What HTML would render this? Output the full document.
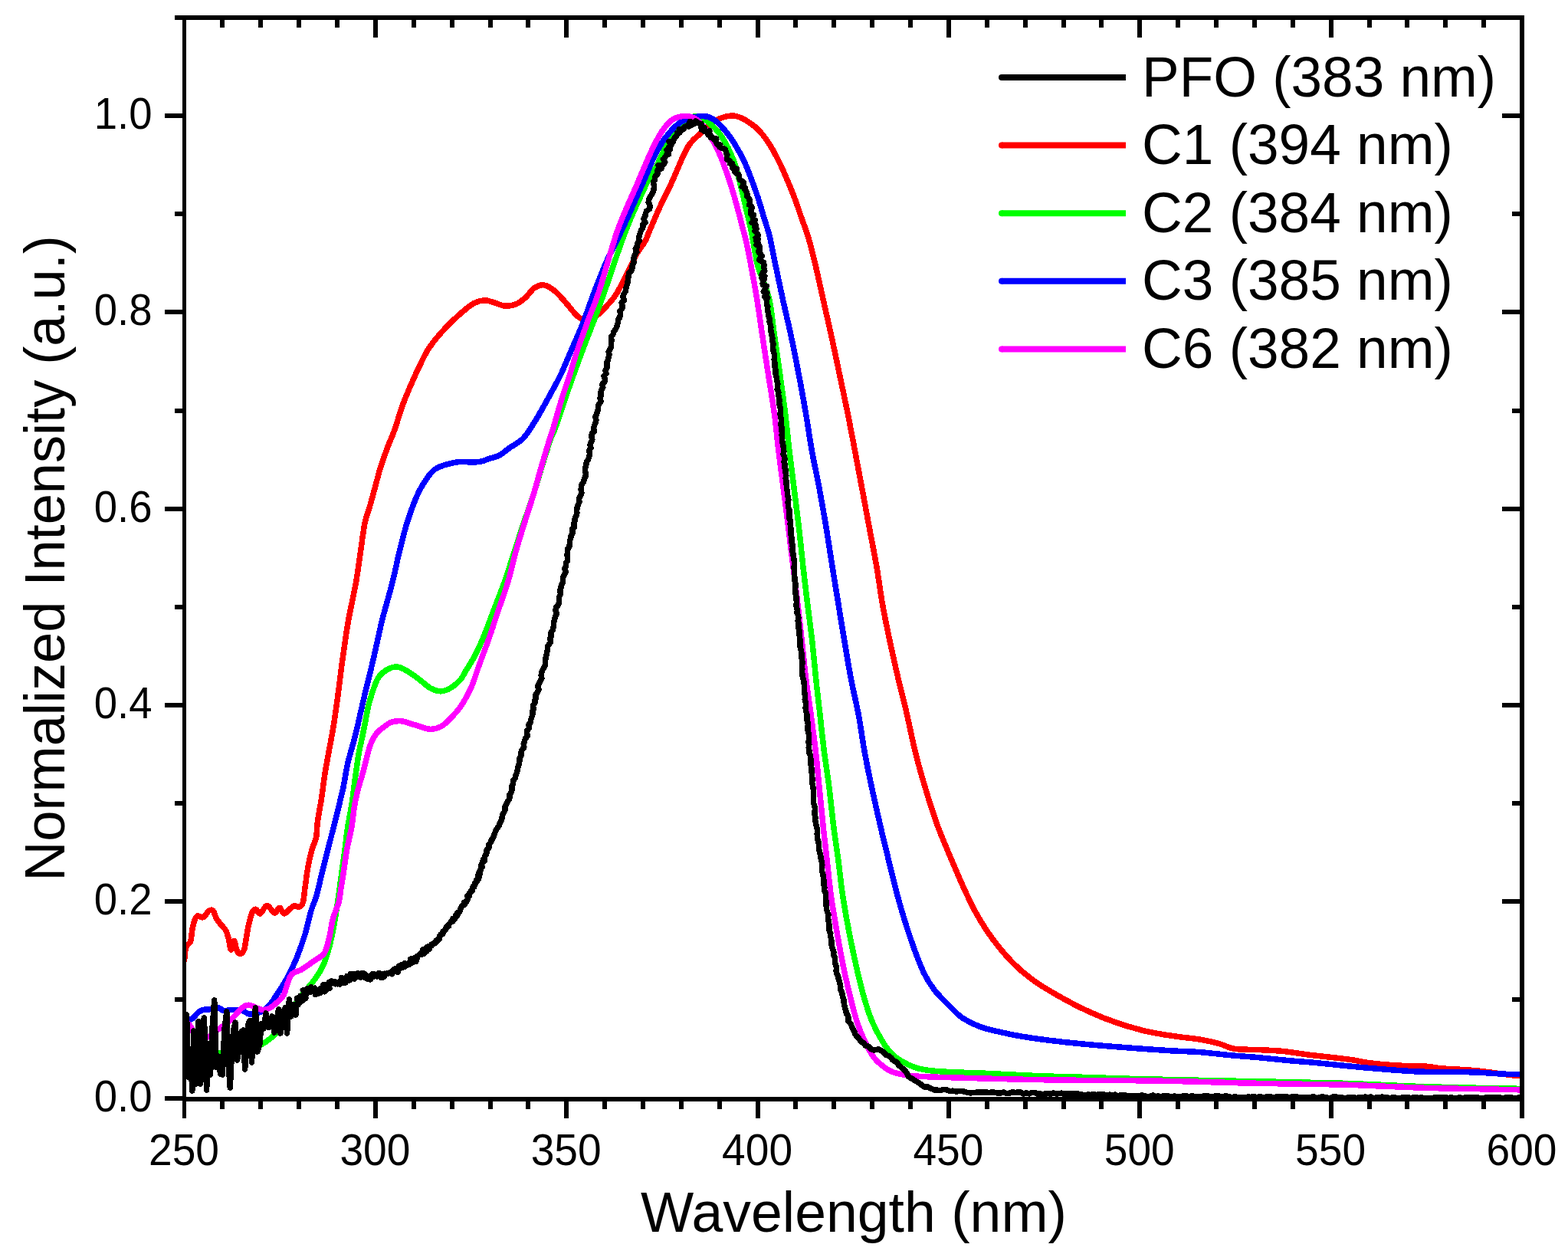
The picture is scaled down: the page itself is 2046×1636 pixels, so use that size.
<!DOCTYPE html><html><head><meta charset="utf-8"><title>Normalized Intensity vs Wavelength</title>
<style>html,body{margin:0;padding:0;background:#fff;width:2046px;height:1636px;overflow:hidden}svg{display:block}text{font-family:"Liberation Sans",Arial,Helvetica,sans-serif;fill:#000}</style></head><body>
<svg width="2046" height="1636" viewBox="0 0 2046 1636">
<rect x="0" y="0" width="2046" height="1636" fill="#fff"/>
<defs><clipPath id="pa"><rect x="240" y="23" width="1746" height="1410"/></clipPath></defs>
<g clip-path="url(#pa)" shape-rendering="crispEdges" fill="none" stroke-width="7.5" stroke-linejoin="round" stroke-linecap="round">
<path stroke="#ff0000" d="M240.5,1253.0C240.9,1250.2 241.4,1240.2 242.8,1236.0C244.2,1231.8 247.4,1231.8 248.7,1228.0C250.0,1224.2 249.9,1217.9 250.7,1213.5C251.5,1209.1 252.5,1204.9 253.6,1201.8C254.7,1198.7 255.7,1195.8 257.5,1195.0C259.3,1194.2 262.7,1197.0 264.3,1197.0C265.9,1197.0 266.0,1196.4 267.3,1195.0C268.6,1193.6 270.4,1189.7 272.2,1188.5C274.0,1187.3 276.4,1186.5 278.0,1188.0C279.6,1189.5 280.4,1194.5 282.0,1197.5C283.6,1200.5 285.7,1203.0 287.8,1205.7C289.9,1208.5 292.9,1210.6 294.7,1214.0C296.5,1217.4 297.5,1221.8 298.6,1226.0C299.7,1230.2 300.4,1238.8 301.5,1239.0C302.6,1239.2 304.1,1227.2 305.4,1227.5C306.7,1227.8 308.0,1238.2 309.5,1241.0C311.0,1243.8 313.0,1244.3 314.5,1244.0C316.0,1243.7 317.4,1242.0 318.5,1239.0C319.6,1236.0 320.1,1231.2 321.0,1226.2C321.9,1221.2 322.7,1214.6 324.0,1208.7C325.3,1202.8 327.3,1194.8 328.9,1191.0C330.5,1187.2 332.0,1186.0 333.8,1186.2C335.6,1186.4 337.2,1192.8 339.6,1192.0C342.0,1191.2 345.3,1181.5 348.4,1181.3C351.5,1181.1 355.4,1190.5 358.2,1191.0C361.0,1191.5 362.9,1184.0 365.0,1184.2C367.1,1184.4 368.0,1192.3 370.9,1192.0C373.8,1191.7 379.4,1183.8 382.6,1182.3C385.9,1180.8 388.3,1184.0 390.4,1183.2C392.5,1182.4 394.1,1180.9 395.3,1177.4C396.5,1173.9 396.9,1166.4 397.5,1162.0C398.1,1157.6 398.4,1155.7 399.0,1151.0C399.6,1146.3 400.4,1139.7 401.4,1134.0C402.4,1128.3 403.7,1121.8 404.8,1117.0C405.9,1112.2 406.9,1109.0 408.2,1105.0C409.5,1101.0 411.5,1098.1 412.5,1093.0C413.5,1087.9 413.5,1080.2 414.2,1074.2C414.9,1068.2 415.9,1062.8 416.8,1057.1C417.7,1051.4 418.7,1047.7 419.8,1040.0C420.9,1032.3 422.1,1021.3 423.7,1011.2C425.3,1001.1 427.3,990.5 429.3,979.5C431.3,968.5 433.6,957.1 435.5,945.0C437.4,932.9 439.0,921.2 441.0,906.7C443.0,892.2 445.0,874.1 447.3,857.8C449.6,841.5 451.8,825.2 454.7,808.9C457.6,792.6 461.9,775.0 464.5,760.0C467.1,745.0 468.7,731.9 470.6,718.9C472.5,705.9 474.0,692.4 476.1,682.2C478.2,672.0 481.1,665.9 483.4,657.8C485.7,649.6 487.9,641.4 490.1,633.3C492.3,625.1 494.2,617.0 496.8,608.9C499.4,600.8 502.3,592.5 505.4,584.4C508.5,576.2 512.0,568.9 515.2,560.0C518.4,551.1 521.2,540.0 524.4,531.1C527.6,522.2 530.7,514.9 534.2,506.7C537.7,498.5 541.3,490.3 545.2,482.2C549.1,474.1 553.2,464.9 557.5,457.8C561.8,450.7 565.8,445.6 570.9,439.5C576.0,433.4 582.5,426.6 588.0,421.1C593.5,415.6 598.8,410.8 603.9,406.5C609.0,402.2 613.9,397.9 618.6,395.5C623.3,393.1 627.9,392.0 632.0,391.8C636.1,391.6 638.5,393.0 643.0,394.2C647.5,395.4 653.8,398.7 658.9,399.1C664.0,399.5 669.1,398.5 673.6,396.7C678.1,394.9 681.8,391.6 685.8,388.1C689.8,384.6 693.5,378.2 697.5,375.5C701.5,372.8 705.3,371.1 709.8,371.9C714.3,372.7 719.6,376.2 724.5,380.2C729.4,384.2 735.0,391.2 739.1,395.8C743.2,400.4 745.8,404.3 748.9,407.6C752.0,410.9 754.5,414.0 757.7,415.4C760.9,416.8 764.2,416.8 768.0,416.0C771.8,415.2 776.1,413.5 780.2,410.5C784.4,407.5 789.1,401.9 792.9,397.8C796.6,393.7 799.4,390.9 802.7,386.0C806.0,381.1 809.2,374.7 812.5,368.5C815.8,362.3 819.0,355.4 822.2,348.9C825.5,342.4 828.7,335.0 832.0,329.3C835.3,323.6 839.1,319.6 841.8,314.7C844.5,309.8 844.6,307.8 848.0,300.0C851.4,292.2 857.2,278.3 862.0,268.0C866.8,257.7 870.7,250.6 876.5,238.0C882.3,225.4 890.9,203.0 897.0,192.5C903.1,182.0 907.8,180.2 912.9,175.0C918.0,169.8 922.6,164.9 927.5,161.3C932.4,157.7 937.3,155.2 942.2,153.5C947.1,151.8 952.0,150.6 956.9,151.0C961.8,151.4 966.1,153.1 971.4,156.0C976.7,158.9 983.2,163.2 988.5,168.3C993.8,173.4 998.4,179.6 1003.1,186.7C1007.8,193.8 1012.5,202.9 1016.6,211.1C1020.7,219.2 1024.1,227.4 1027.6,235.6C1031.1,243.8 1034.4,251.8 1037.4,260.0C1040.5,268.1 1043.1,276.4 1045.9,284.5C1048.8,292.6 1051.7,299.6 1054.5,308.9C1057.3,318.1 1059.5,326.7 1062.7,340.0C1065.9,353.3 1070.0,372.6 1073.7,388.9C1077.4,405.2 1081.1,421.5 1084.7,437.8C1088.3,454.1 1091.5,469.7 1095.1,486.7C1098.7,503.7 1102.9,523.0 1106.3,540.0C1109.7,557.0 1112.6,572.6 1115.7,588.9C1118.8,605.2 1121.9,621.5 1124.9,637.8C1128.0,654.1 1130.8,669.7 1134.0,686.7C1137.2,703.7 1141.1,723.0 1144.0,740.0C1146.9,757.0 1148.7,772.6 1151.6,788.9C1154.5,805.2 1157.9,821.5 1161.4,837.8C1164.9,854.1 1168.8,871.3 1172.4,886.7C1176.0,902.1 1179.4,914.6 1183.0,930.0C1186.6,945.4 1189.8,962.6 1193.8,978.9C1197.8,995.2 1202.4,1011.5 1207.3,1027.8C1212.2,1044.1 1217.6,1061.3 1223.2,1076.7C1228.8,1092.1 1234.9,1105.8 1240.9,1120.0C1246.9,1134.2 1253.4,1149.5 1259.1,1161.8C1264.8,1174.1 1268.9,1183.0 1275.0,1193.6C1281.1,1204.2 1287.7,1214.8 1295.6,1225.4C1303.5,1236.0 1313.3,1247.8 1322.6,1257.1C1331.9,1266.4 1339.9,1273.0 1351.3,1281.0C1362.7,1289.0 1379.1,1298.2 1391.0,1304.8C1402.9,1311.4 1412.2,1315.9 1422.8,1320.7C1433.4,1325.5 1443.4,1329.5 1454.6,1333.4C1465.8,1337.3 1479.9,1341.5 1490.0,1344.1C1500.1,1346.7 1506.9,1347.7 1515.4,1349.2C1523.9,1350.7 1532.3,1351.8 1540.8,1353.0C1549.3,1354.2 1557.7,1354.7 1566.2,1356.2C1574.7,1357.7 1584.3,1359.9 1591.7,1361.9C1599.1,1363.9 1602.2,1367.0 1610.7,1368.3C1619.2,1369.6 1631.9,1369.1 1642.5,1369.6C1653.1,1370.1 1663.7,1370.5 1674.3,1371.5C1684.9,1372.5 1695.0,1374.5 1706.0,1375.9C1717.0,1377.3 1730.3,1378.6 1740.0,1379.7C1749.7,1380.8 1756.2,1381.6 1764.4,1382.8C1772.6,1384.0 1778.7,1385.8 1788.9,1387.0C1799.1,1388.2 1813.3,1389.4 1825.5,1390.1C1837.7,1390.8 1853.0,1390.7 1862.2,1391.3C1871.4,1391.9 1869.9,1392.9 1880.5,1393.8C1891.1,1394.7 1910.2,1395.3 1926.0,1396.8C1941.8,1398.3 1964.0,1401.8 1975.0,1403.0C1986.0,1404.2 1989.2,1403.8 1992.0,1404.0"/>
<path stroke="#00ff00" d="M240.5,1368.5C242.7,1369.6 249.5,1373.9 253.6,1375.0C257.7,1376.1 260.6,1375.2 265.0,1375.0C269.4,1374.8 274.2,1374.5 280.0,1374.0C285.8,1373.5 293.3,1372.7 300.0,1372.0C306.7,1371.3 314.3,1371.0 320.0,1370.0C325.7,1369.0 330.4,1367.2 334.0,1366.0C337.6,1364.8 338.5,1364.3 341.6,1362.5C344.7,1360.7 349.2,1357.8 352.6,1355.0C356.0,1352.2 358.7,1349.7 361.8,1346.0C364.9,1342.3 367.5,1338.3 371.0,1333.0C374.5,1327.7 378.9,1320.0 382.9,1314.0C386.9,1308.0 391.0,1302.3 395.0,1297.0C399.0,1291.7 403.2,1287.5 407.1,1282.3C411.0,1277.1 415.2,1272.0 418.4,1266.1C421.6,1260.2 423.8,1255.4 426.5,1246.8C429.2,1238.2 432.1,1226.2 434.5,1214.5C436.9,1202.8 439.2,1186.0 440.6,1176.9C442.0,1167.8 442.2,1165.7 443.0,1160.0C443.8,1154.3 444.1,1151.3 445.3,1142.7C446.5,1134.1 448.6,1119.1 450.0,1108.4C451.4,1097.7 452.2,1088.6 453.8,1078.7C455.2,1068.8 457.5,1059.1 459.0,1049.3C460.5,1039.5 461.3,1030.9 462.8,1020.0C464.3,1009.1 466.3,994.0 468.0,984.0C469.7,974.0 471.5,967.3 473.0,960.0C474.5,952.7 475.6,946.9 477.0,940.0C478.4,933.1 479.2,926.5 481.2,918.9C483.2,911.3 486.6,900.6 488.9,894.5C491.2,888.4 491.9,885.9 495.0,882.2C498.1,878.5 503.3,874.5 507.2,872.5C511.1,870.5 514.3,869.6 518.2,870.0C522.1,870.4 525.8,872.2 530.5,874.9C535.2,877.5 541.1,882.0 546.4,885.9C551.7,889.8 557.3,895.5 562.2,898.1C567.1,900.8 571.2,902.0 575.7,901.8C580.2,901.6 584.9,899.4 589.1,896.9C593.3,894.4 598.0,890.0 601.0,886.5C604.0,883.0 604.4,880.9 607.3,876.1C610.2,871.3 614.5,864.9 618.3,857.8C622.1,850.7 625.7,843.5 630.0,833.3C634.3,823.1 639.3,808.9 644.0,796.7C648.7,784.5 653.4,773.0 658.0,760.0C662.6,747.0 667.2,731.9 671.5,718.9C675.8,705.9 679.4,694.4 683.5,682.2C687.6,670.0 692.1,657.8 696.0,645.6C699.9,633.4 703.2,621.1 707.0,608.9C710.8,596.7 715.7,580.4 718.5,572.2C721.3,564.1 720.2,570.4 724.0,560.0C727.8,549.6 735.2,526.7 741.0,510.0C746.8,493.3 753.3,475.4 759.0,460.0C764.7,444.6 770.3,430.7 775.3,417.4C780.3,404.1 782.1,399.6 789.0,380.0C795.9,360.4 807.8,323.3 816.9,300.0C826.0,276.7 837.0,253.7 843.5,240.0C850.0,226.3 851.6,226.3 856.0,218.0C860.4,209.7 864.7,199.3 870.0,190.0C875.3,180.7 882.5,168.2 888.0,162.0C893.5,155.8 898.5,153.9 903.0,152.5C907.5,151.1 910.9,151.9 915.0,153.5C919.1,155.1 923.0,158.1 927.5,162.3C932.0,166.5 937.3,171.2 942.2,178.9C947.1,186.6 952.8,197.6 956.9,208.2C961.0,218.8 963.7,231.0 966.6,242.4C969.5,253.8 972.3,267.0 974.5,276.6C976.7,286.2 978.1,290.5 980.0,300.0C981.9,309.5 984.4,325.1 986.0,333.4C987.6,341.7 986.8,340.8 989.7,350.0C992.6,359.2 999.9,374.3 1003.4,388.9C1006.9,403.5 1008.1,421.5 1010.5,437.8C1012.9,454.1 1015.1,469.7 1017.5,486.7C1019.9,503.7 1022.6,523.0 1024.7,540.0C1026.8,557.0 1028.2,572.6 1030.1,588.9C1032.0,605.2 1034.2,621.5 1036.2,637.8C1038.2,654.1 1040.3,669.7 1042.3,686.7C1044.3,703.7 1046.1,723.0 1048.0,740.0C1049.9,757.0 1051.8,772.6 1053.8,788.9C1055.8,805.2 1058.1,821.5 1059.9,837.8C1061.7,854.1 1063.2,871.3 1064.8,886.7C1066.4,902.1 1068.0,914.6 1069.7,930.0C1071.4,945.4 1073.2,962.6 1075.2,978.9C1077.2,995.2 1080.0,1011.5 1082.0,1027.8C1084.0,1044.1 1085.6,1061.3 1087.5,1076.7C1089.4,1092.1 1091.6,1104.6 1093.6,1120.0C1095.6,1135.4 1097.2,1152.6 1099.7,1168.9C1102.2,1185.2 1105.1,1201.5 1108.3,1217.8C1111.5,1234.1 1115.5,1252.8 1118.7,1266.7C1121.9,1280.6 1124.2,1290.3 1127.4,1301.2C1130.6,1312.1 1133.8,1322.8 1137.8,1332.3C1141.8,1341.8 1147.1,1351.4 1151.3,1358.3C1155.5,1365.2 1158.5,1369.6 1162.7,1373.9C1166.9,1378.2 1171.0,1381.2 1176.2,1384.3C1181.4,1387.4 1187.5,1390.5 1193.9,1392.6C1200.3,1394.7 1206.1,1395.8 1214.7,1396.8C1223.3,1397.8 1233.7,1398.2 1245.8,1398.8C1257.9,1399.4 1270.1,1399.5 1287.4,1400.3C1304.7,1401.1 1327.6,1402.5 1349.7,1403.4C1371.8,1404.3 1396.6,1404.8 1420.0,1405.5C1443.4,1406.2 1460.0,1407.0 1490.0,1407.7C1520.0,1408.5 1556.7,1409.1 1600.0,1410.0C1643.3,1410.9 1706.3,1411.9 1750.0,1413.2C1793.7,1414.5 1821.7,1416.6 1862.0,1417.8C1902.3,1419.0 1970.3,1420.0 1992.0,1420.5"/>
<path stroke="#0000ff" d="M240.5,1331.3C242.1,1331.0 246.4,1331.6 250.0,1329.5C253.6,1327.4 257.7,1320.6 261.8,1318.5C265.9,1316.4 270.7,1317.3 274.7,1316.7C278.7,1316.1 282.9,1314.5 285.7,1314.8C288.4,1315.1 288.4,1318.0 291.2,1318.5C293.9,1319.0 298.1,1317.6 302.2,1317.6C306.3,1317.6 312.2,1317.6 316.0,1318.5C319.8,1319.4 321.9,1322.4 325.0,1323.0C328.1,1323.6 331.2,1323.0 334.3,1322.2C337.4,1321.5 340.3,1320.5 343.4,1318.5C346.4,1316.5 349.5,1314.0 352.6,1310.3C355.7,1306.6 358.9,1300.9 361.8,1296.5C364.7,1292.1 367.4,1288.3 370.0,1283.9C372.6,1279.5 374.9,1275.7 377.7,1270.0C380.5,1264.3 383.7,1258.2 387.0,1250.0C390.3,1241.8 394.2,1231.3 397.4,1221.0C400.6,1210.7 403.5,1196.5 406.0,1188.0C408.5,1179.5 410.3,1177.5 412.5,1170.0C414.7,1162.5 416.7,1153.0 419.3,1142.7C421.9,1132.4 425.0,1119.8 427.9,1108.4C430.8,1097.0 433.6,1085.6 436.5,1074.2C439.4,1062.8 443.1,1047.8 445.0,1040.0C446.9,1032.2 446.5,1034.5 448.0,1027.1C449.5,1019.6 451.3,1006.5 453.9,995.3C456.5,984.1 460.8,970.6 463.5,960.0C466.2,949.4 467.9,940.7 470.0,931.8C472.1,922.9 472.9,919.0 475.8,906.7C478.8,894.4 483.9,874.1 487.7,857.8C491.5,841.5 494.6,825.2 498.7,808.9C502.8,792.6 508.2,775.0 512.0,760.0C515.8,745.0 518.1,731.9 521.3,718.9C524.5,705.9 528.0,692.4 531.1,682.2C534.2,672.0 536.9,664.9 539.6,657.8C542.4,650.7 544.6,645.2 547.6,639.5C550.6,633.8 554.1,628.1 557.4,623.6C560.6,619.1 563.2,615.5 567.1,612.6C571.0,609.8 575.3,608.2 580.6,606.5C585.9,604.8 592.8,603.2 599.0,602.6C605.2,602.0 612.7,603.3 617.8,603.1C622.9,602.9 626.1,602.4 629.5,601.6C632.9,600.8 634.4,599.7 638.0,598.5C641.6,597.3 646.8,596.6 651.3,594.2C655.8,591.9 659.5,588.2 664.8,584.4C670.1,580.6 677.1,577.8 682.9,571.6C688.7,565.4 694.0,556.1 699.6,547.1C705.2,538.1 710.8,527.6 716.2,517.8C721.6,508.0 727.1,498.3 731.8,488.5C736.5,478.7 740.2,468.9 744.5,459.1C748.8,449.3 754.4,436.7 757.3,429.8C760.2,422.9 758.9,426.3 762.0,418.0C765.1,409.7 770.8,393.0 775.8,380.0C780.8,367.0 786.0,353.3 792.0,340.0C798.0,326.7 803.8,316.7 811.5,300.0C819.2,283.3 831.2,256.1 838.3,240.0C845.4,223.9 849.0,213.6 854.2,203.3C859.4,193.0 863.8,185.3 869.5,178.0C875.2,170.7 881.2,163.7 888.4,159.3C895.6,154.9 906.1,152.5 912.9,151.7C919.7,150.9 923.8,151.7 929.0,154.5C934.2,157.3 939.6,162.9 944.4,168.3C949.2,173.7 953.4,179.6 957.9,186.7C962.4,193.8 967.4,202.9 971.3,211.1C975.2,219.2 978.0,227.4 981.1,235.6C984.2,243.8 987.1,251.8 989.7,260.0C992.4,268.1 994.5,276.4 997.0,284.5C999.5,292.6 1002.2,300.0 1004.4,308.9C1006.6,317.8 1007.5,324.7 1010.3,338.0C1013.1,351.3 1017.5,372.3 1021.1,388.9C1024.7,405.5 1028.6,421.5 1032.1,437.8C1035.6,454.1 1038.7,469.7 1041.9,486.7C1045.2,503.7 1048.7,523.0 1051.6,540.0C1054.5,557.0 1056.6,572.6 1059.5,588.9C1062.4,605.2 1066.2,621.5 1069.2,637.8C1072.2,654.1 1075.0,669.7 1077.8,686.7C1080.6,703.7 1083.5,723.0 1086.2,740.0C1088.9,757.0 1091.4,772.6 1094.1,788.9C1096.8,805.2 1099.3,821.5 1102.1,837.8C1104.8,854.1 1107.6,871.0 1110.6,886.7C1113.6,902.4 1117.3,916.6 1120.2,932.0C1123.1,947.4 1124.9,962.9 1127.8,978.9C1130.7,994.9 1134.1,1011.5 1137.6,1027.8C1141.1,1044.1 1144.9,1061.0 1148.6,1076.7C1152.2,1092.4 1155.7,1106.6 1159.5,1122.0C1163.3,1137.4 1166.8,1152.9 1171.2,1168.9C1175.6,1184.9 1180.4,1201.5 1185.9,1217.8C1191.4,1234.1 1198.8,1254.5 1204.3,1266.7C1209.8,1278.9 1213.0,1283.3 1218.9,1291.1C1224.9,1298.9 1233.8,1307.3 1240.0,1313.5C1246.2,1319.7 1249.3,1323.6 1255.9,1328.0C1262.5,1332.4 1271.8,1336.8 1279.7,1339.8C1287.7,1342.8 1294.3,1344.0 1303.6,1346.1C1312.9,1348.2 1322.2,1350.4 1335.4,1352.5C1348.6,1354.6 1367.1,1357.1 1383.0,1358.9C1398.9,1360.8 1414.8,1362.2 1430.7,1363.6C1446.6,1365.0 1462.2,1366.2 1478.4,1367.4C1494.6,1368.6 1513.5,1369.9 1528.1,1370.8C1542.7,1371.7 1553.5,1371.7 1566.2,1372.7C1578.9,1373.7 1591.7,1375.4 1604.4,1376.6C1617.1,1377.8 1629.8,1378.5 1642.5,1379.7C1655.2,1380.9 1667.9,1382.3 1680.6,1383.5C1693.3,1384.7 1707.1,1385.6 1718.7,1386.7C1730.3,1387.8 1740.3,1388.9 1750.0,1389.9C1759.7,1390.9 1766.2,1391.5 1776.7,1392.5C1787.2,1393.5 1801.1,1394.7 1813.3,1395.6C1825.5,1396.5 1837.8,1397.5 1850.0,1398.0C1862.2,1398.5 1874.4,1398.5 1886.6,1398.7C1898.8,1398.9 1911.1,1398.5 1923.3,1398.9C1935.5,1399.3 1948.5,1400.6 1960.0,1401.1C1971.5,1401.6 1986.7,1401.6 1992.0,1401.7"/>
<path stroke="#ff00ff" d="M240.5,1332.0C241.6,1332.8 245.3,1334.5 247.2,1336.8C249.1,1339.1 250.6,1343.2 251.8,1346.0C253.0,1348.8 252.8,1352.1 254.5,1353.3C256.2,1354.5 258.9,1353.2 262.0,1353.0C265.1,1352.8 269.8,1353.6 272.8,1352.4C275.8,1351.2 277.4,1348.0 280.0,1346.0C282.6,1344.0 284.7,1343.2 288.4,1340.5C292.1,1337.8 297.6,1333.8 302.2,1329.5C306.8,1325.2 312.2,1317.8 316.0,1314.8C319.8,1311.8 321.9,1311.2 325.0,1311.2C328.1,1311.2 331.2,1313.7 334.3,1314.8C337.4,1315.9 340.3,1317.6 343.4,1317.6C346.4,1317.6 349.5,1316.5 352.6,1314.8C355.7,1313.1 358.9,1310.2 361.8,1307.5C364.7,1304.8 367.0,1304.2 370.0,1298.4C373.0,1292.6 375.7,1278.2 379.7,1272.6C383.7,1266.9 389.1,1267.7 394.2,1264.5C399.3,1261.3 405.5,1256.7 410.3,1253.2C415.1,1249.7 420.0,1248.6 423.2,1243.5C426.4,1238.4 427.8,1230.1 429.7,1222.6C431.6,1215.1 432.4,1206.0 434.5,1198.4C436.6,1190.8 440.4,1183.3 442.1,1176.9C443.8,1170.5 443.9,1165.7 444.8,1160.0C445.7,1154.3 446.3,1151.3 447.6,1142.7C448.9,1134.1 450.8,1119.1 452.7,1108.4C454.6,1097.7 457.2,1088.6 458.9,1078.7C460.6,1068.8 461.4,1057.9 462.9,1049.3C464.4,1040.7 466.1,1034.3 468.0,1027.1C469.9,1019.9 472.6,1011.3 474.1,1006.0C475.6,1000.7 475.4,1001.0 476.9,995.3C478.4,989.5 480.9,977.9 483.3,971.5C485.7,965.1 488.3,960.7 491.3,956.8C494.3,952.9 497.8,950.8 501.1,948.3C504.4,945.8 507.0,943.3 510.9,942.1C514.8,940.9 519.3,940.3 524.4,940.9C529.5,941.5 535.4,944.1 541.5,945.8C547.6,947.5 555.5,950.9 561.0,951.3C566.5,951.7 570.2,950.4 574.5,948.3C578.8,946.2 582.2,943.0 586.7,938.5C591.2,934.0 597.5,926.7 601.4,921.4C605.2,916.1 607.3,911.4 609.8,906.7C612.3,902.0 614.1,899.1 616.5,893.0C618.9,886.9 620.8,880.0 624.4,870.0C628.0,860.0 633.6,845.5 637.9,833.3C642.2,821.1 646.0,808.9 650.1,796.7C654.2,784.5 658.7,773.0 662.6,760.0C666.5,747.0 669.7,731.9 673.3,718.9C676.9,705.9 680.6,694.4 684.4,682.2C688.2,670.0 692.3,657.8 696.0,645.6C699.7,633.4 702.8,621.1 706.4,608.9C710.0,596.7 714.9,580.4 717.4,572.2C719.9,564.1 718.8,569.1 721.5,560.0C724.2,550.9 730.1,529.7 733.8,517.8C737.5,505.9 740.5,498.3 743.6,488.5C746.7,478.7 749.4,468.9 752.6,459.1C755.9,449.3 760.6,436.8 763.1,429.8C765.6,422.9 764.4,425.7 767.5,417.4C770.6,409.1 775.3,399.6 781.7,380.0C788.1,360.4 797.7,323.3 806.0,300.0C814.3,276.7 824.2,256.9 831.4,240.0C838.6,223.1 843.9,209.9 849.3,198.4C854.7,186.9 859.1,178.2 864.0,171.0C868.9,163.8 873.0,158.6 878.7,155.4C884.4,152.2 892.5,151.0 898.2,151.7C903.9,152.3 908.0,154.8 912.9,159.3C917.8,163.8 923.2,172.1 927.5,178.9C931.8,185.7 935.2,192.6 938.5,200.0C941.8,207.4 944.7,215.4 947.5,223.3C950.3,231.2 953.0,239.3 955.5,247.5C958.0,255.7 960.3,264.0 962.5,272.2C964.7,280.4 966.8,288.5 968.9,296.7C971.0,304.9 973.1,312.6 975.0,321.1C976.9,329.7 978.1,336.7 980.2,348.0C982.3,359.3 985.1,373.9 987.5,388.9C989.9,403.9 992.3,421.5 994.8,437.8C997.2,454.1 999.6,469.7 1002.2,486.7C1004.8,503.7 1008.2,523.0 1010.5,540.0C1012.8,557.0 1014.0,572.6 1016.0,588.9C1018.0,605.2 1020.2,621.5 1022.3,637.8C1024.4,654.1 1026.4,669.7 1028.5,686.7C1030.6,703.7 1032.9,723.0 1035.0,740.0C1037.1,757.0 1039.1,772.6 1041.0,788.9C1042.9,805.2 1044.7,821.5 1046.5,837.8C1048.3,854.1 1049.9,871.3 1051.8,886.7C1053.7,902.1 1055.7,914.6 1057.8,930.0C1059.9,945.4 1062.3,962.6 1064.2,978.9C1066.1,995.2 1067.5,1011.5 1069.1,1027.8C1070.7,1044.1 1072.4,1061.3 1074.0,1076.7C1075.6,1092.1 1077.2,1104.6 1078.9,1120.0C1080.6,1135.4 1082.2,1152.6 1084.4,1168.9C1086.7,1185.2 1089.5,1201.5 1092.4,1217.8C1095.3,1234.1 1098.7,1252.8 1101.6,1266.7C1104.5,1280.6 1107.0,1290.3 1109.7,1301.2C1112.4,1312.1 1114.9,1322.8 1118.0,1332.3C1121.1,1341.8 1124.8,1350.5 1128.4,1358.3C1132.1,1366.1 1136.2,1373.9 1139.9,1379.1C1143.6,1384.3 1146.5,1386.4 1150.3,1389.5C1154.1,1392.6 1158.0,1395.7 1162.7,1397.8C1167.4,1399.9 1173.1,1401.0 1178.3,1402.0C1183.5,1403.0 1186.1,1403.5 1193.9,1404.0C1201.7,1404.5 1209.5,1404.8 1225.1,1405.3C1240.7,1405.8 1266.6,1406.5 1287.4,1407.1C1308.2,1407.6 1327.6,1408.2 1349.7,1408.6C1371.8,1409.0 1396.6,1409.2 1420.0,1409.4C1443.4,1409.6 1467.8,1409.5 1490.0,1409.8C1512.2,1410.1 1532.3,1410.5 1553.5,1411.0C1574.7,1411.5 1595.9,1412.3 1617.1,1412.8C1638.3,1413.3 1658.4,1413.6 1680.6,1414.0C1702.8,1414.4 1729.9,1414.5 1750.0,1415.0C1770.1,1415.5 1782.4,1416.3 1801.1,1417.0C1819.8,1417.7 1841.8,1418.8 1862.2,1419.4C1882.6,1420.0 1901.7,1420.2 1923.3,1420.6C1944.9,1421.0 1980.5,1421.8 1992.0,1422.0"/>
<path stroke="#000000" d="M240.5,1360.0 243.5,1324.0 246.0,1405.0 248.5,1370.0 250.8,1423.0 253.0,1345.0 256.0,1414.0 259.0,1333.0 261.5,1414.0 264.0,1338.0 266.4,1328.0 269.6,1422.0 272.0,1362.0 274.5,1402.0 277.0,1342.0 279.7,1305.0 282.0,1392.0 285.0,1378.0 287.5,1401.0 290.3,1402.0 293.0,1342.0 295.8,1320.0 298.0,1388.0 300.3,1419.0 303.0,1362.0 305.0,1342.0 307.2,1334.0 309.5,1383.0 312.0,1368.0 315.0,1346.0 317.5,1344.0 319.6,1395.0 322.0,1360.0 324.0,1336.0 326.0,1331.5 328.5,1386.0 331.0,1342.0 333.4,1315.0 336.0,1372.0 338.9,1362.0 341.0,1336.0 344.0,1342.0 347.0,1322.0 350.0,1340.0 352.0,1340.0 355.0,1326.0 358.0,1347.0 361.0,1331.0 363.6,1317.0 366.0,1348.0 369.0,1322.0 372.0,1315.0 374.6,1348.0 377.4,1304.0 380.0,1326.0 383.0,1311.0 386.0,1324.0 385.7,1310.8 389.0,1310.9 388.2,1308.9 390.9,1308.7 391.7,1307.6 387.4,1303.7 387.6,1302.2 395.5,1304.9 391.3,1300.8 391.8,1299.4 399.0,1302.2 395.3,1298.2 399.1,1298.9 396.8,1295.9 398.9,1295.5 395.4,1291.8 400.3,1293.1 403.0,1293.1 400.5,1290.2 400.9,1292.7 402.4,1292.6 405.9,1287.5 404.5,1294.4 406.3,1293.3 408.6,1291.2 410.9,1289.2 411.6,1297.4 411.5,1293.2 413.7,1295.0 415.5,1296.0 416.2,1294.0 418.3,1295.4 417.7,1290.0 420.4,1293.3 420.4,1289.5 423.5,1293.6 425.6,1292.0 421.7,1285.0 423.0,1284.5 424.5,1284.3 430.2,1289.4 427.9,1284.4 430.2,1285.1 429.2,1281.7 431.5,1282.5 431.7,1280.7 432.5,1279.7 434.6,1280.8 436.0,1280.7 437.8,1283.7 439.0,1281.3 440.7,1283.6 442.1,1282.7 443.7,1283.9 444.7,1280.5 445.6,1275.3 448.5,1281.9 450.2,1282.5 451.3,1281.5 451.5,1277.9 453.3,1278.8 452.9,1273.6 456.2,1279.0 456.7,1276.2 457.1,1273.0 457.7,1270.5 461.1,1276.5 462.7,1277.0 462.0,1270.6 464.9,1274.9 465.3,1271.8 467.2,1269.6 468.4,1270.8 469.2,1274.3 470.4,1275.2 472.7,1269.7 473.4,1273.8 475.3,1270.1 476.0,1275.0 477.7,1272.5 478.5,1276.5 479.7,1277.4 481.6,1274.3 483.4,1277.9 484.0,1273.0 485.1,1271.2 487.0,1274.6 487.8,1270.4 489.3,1271.4 490.9,1272.6 492.4,1273.8 493.3,1270.5 494.5,1269.5 496.7,1275.0 497.5,1270.9 500.1,1275.0 501.2,1274.1 501.2,1270.2 502.7,1270.3 504.1,1270.2 505.6,1270.6 506.8,1269.8 507.9,1269.0 509.3,1269.0 511.4,1270.6 511.6,1267.3 512.7,1266.3 514.7,1267.7 514.8,1264.1 516.3,1264.0 519.2,1268.0 519.4,1264.5 520.7,1264.2 520.7,1260.2 522.9,1262.4 524.7,1262.7 524.1,1258.6 527.4,1261.5 528.7,1260.9 528.0,1256.7 531.2,1259.4 531.9,1257.7 533.9,1258.3 533.9,1255.7 536.4,1256.8 537.7,1256.2 535.7,1251.4 537.0,1250.8 540.6,1253.4 542.9,1254.2 541.0,1249.4 542.9,1249.8 544.6,1249.7 544.5,1247.4 545.8,1246.8 546.5,1245.8 547.8,1245.2 549.9,1245.5 549.6,1243.1 550.9,1242.6 553.8,1243.8 551.4,1239.0 554.9,1240.9 556.7,1240.9 555.8,1237.8 556.4,1236.4 560.1,1238.6 558.5,1234.8 560.2,1234.7 561.6,1234.3 563.0,1234.0 563.0,1232.0 564.4,1231.6 565.4,1230.7 567.2,1230.9 567.5,1229.3 569.2,1229.2 569.1,1227.0 570.3,1226.5 571.9,1226.2 573.2,1225.5 573.0,1223.7 573.2,1222.3 573.7,1221.1 575.3,1220.6 575.4,1219.0 577.4,1218.8 578.2,1217.8 577.5,1215.7 578.5,1214.8 580.3,1214.5 580.8,1213.2 582.0,1212.4 582.0,1210.5 582.4,1209.1 583.6,1208.3 585.5,1208.1 585.3,1206.2 586.3,1205.2 587.3,1204.3 588.1,1203.2 589.0,1202.1 590.9,1201.9 590.2,1199.6 590.7,1198.3 593.5,1198.7 594.2,1197.5 595.2,1196.5 594.8,1194.5 596.7,1194.2 597.4,1193.1 596.7,1190.9 598.6,1190.5 599.6,1189.6 600.0,1188.2 600.5,1186.9 600.8,1185.4 601.7,1184.4 602.3,1183.1 602.7,1181.7 604.6,1181.4 604.8,1179.8 606.7,1179.4 605.6,1177.3 608.2,1177.1 608.3,1175.7 609.5,1174.8 610.0,1173.5 610.7,1172.4 610.6,1170.8 609.9,1168.9 612.2,1168.6 611.5,1166.7 612.4,1165.7 613.9,1164.9 614.2,1163.6 614.6,1162.3 616.4,1161.7 616.3,1160.1 616.3,1158.6 616.7,1157.4 618.7,1156.9 618.5,1155.3 619.8,1154.5 619.5,1152.8 619.7,1151.5 621.1,1150.7 622.4,1149.9 621.6,1147.9 623.6,1147.5 624.6,1146.3 624.8,1145.0 625.2,1143.7 623.7,1141.8 625.6,1141.0 626.6,1140.0 625.0,1138.0 626.0,1136.9 626.4,1135.7 627.5,1134.6 627.6,1133.2 628.2,1132.0 629.4,1131.0 627.9,1129.1 628.4,1127.9 629.0,1126.7 629.4,1125.4 629.7,1124.1 632.4,1123.5 632.5,1122.2 631.0,1120.3 632.5,1119.3 632.5,1117.9 632.9,1116.7 633.4,1115.4 634.5,1114.4 634.8,1113.1 634.8,1111.6 634.8,1110.2 635.7,1109.0 635.7,1107.6 637.2,1106.7 638.1,1105.6 637.8,1104.0 637.5,1102.5 638.3,1101.3 639.2,1100.2 640.2,1099.1 641.1,1098.0 640.7,1096.4 643.3,1093.5 644.5,1090.0 645.8,1086.5 647.3,1083.1 649.2,1079.9 651.3,1076.8 652.3,1073.2 654.5,1070.1 655.1,1066.6 655.8,1063.1 657.5,1060.0 659.0,1056.8 658.7,1053.0 660.6,1049.9 661.8,1046.6 663.9,1043.6 665.2,1040.3 665.0,1036.5 667.3,1033.6 668.1,1029.8 667.9,1025.8 669.4,1022.3 669.6,1018.4 672.3,1015.2 673.0,1011.4 674.5,1007.9 675.3,1004.2 676.1,1000.5 677.2,996.9 677.9,993.1 677.9,989.1 680.1,985.7 679.9,981.7 681.3,978.1 683.8,974.9 683.2,970.7 684.4,967.1 685.5,963.4 688.4,960.2 687.6,956.3 688.0,952.6 690.7,949.5 689.8,945.6 692.3,942.4 692.7,938.8 693.9,935.3 695.0,931.8 694.9,928.1 696.3,924.6 695.3,920.7 697.8,917.5 698.0,913.8 699.3,910.4 698.7,906.4 701.4,903.2 703.0,899.7 701.4,895.3 703.2,891.9 705.0,888.4 706.9,885.0 706.1,880.8 706.9,877.1 708.2,873.5 710.4,870.1 711.6,866.5 711.3,862.6 712.0,858.9 712.9,855.2 713.5,851.5 714.5,847.9 714.3,844.0 716.4,840.6 718.7,837.3 717.7,833.2 719.6,829.8 718.5,825.8 721.0,822.4 722.0,818.8 722.5,815.1 722.8,811.4 723.5,807.7 724.8,804.1 726.4,800.6 724.8,796.5 725.5,792.7 728.3,789.5 729.7,786.0 729.3,782.0 729.9,778.3 731.6,774.8 730.7,770.8 731.8,767.2 732.4,763.5 734.5,760.0 734.3,756.3 734.7,752.6 736.8,749.3 738.2,745.8 736.8,741.8 738.7,738.4 738.5,734.7 740.5,731.3 740.4,727.5 740.1,723.6 740.7,719.9 740.8,716.2 743.0,712.8 743.4,709.1 743.5,705.3 744.8,701.7 745.4,698.0 747.6,694.7 746.3,690.6 749.7,687.5 748.8,683.5 749.9,679.9 750.2,676.1 752.1,672.7 752.8,669.0 752.7,665.2 753.2,661.5 754.7,658.0 756.0,654.4 755.4,650.4 757.3,647.0 758.9,643.5 758.2,639.4 758.3,635.6 759.2,631.9 761.6,628.6 762.3,624.9 764.0,621.4 764.4,617.7 763.3,613.6 763.8,609.9 764.8,606.3 765.3,602.6 767.6,599.2 768.8,595.6 769.7,592.0 768.4,587.9 771.0,584.6 770.1,580.6 771.2,577.0 772.9,573.5 771.7,569.4 772.4,565.8 775.5,562.6 774.6,558.5 775.6,554.9 777.0,551.5 778.0,548.0 776.7,544.0 778.4,540.6 779.5,537.1 780.4,533.6 780.3,529.9 782.2,526.6 784.1,523.2 783.0,519.3 784.3,515.8 783.7,512.0 784.9,508.5 786.8,505.2 785.8,501.3 789.0,498.2 789.7,494.7 787.8,490.7 791.1,487.6 789.9,483.7 791.8,480.4 792.4,476.9 791.6,473.1 793.4,469.7 794.0,466.2 795.1,462.7 794.1,458.9 796.3,455.4 797.7,451.7 797.6,447.7 797.9,443.8 797.4,439.5 800.0,436.2 801.1,432.3 803.7,429.0 805.1,425.1 806.3,421.2 806.6,417.2 808.8,413.8 809.6,410.0 808.9,406.0 811.9,402.7 812.0,398.8 811.1,394.7 814.4,391.5 812.7,387.2 814.1,383.6 816.1,380.2 816.7,376.7 817.5,373.2 818.8,369.9 819.2,366.3 819.7,362.8 820.3,359.3 820.9,355.8 823.9,352.9 825.0,349.5 825.3,346.0 826.9,342.7 826.7,339.0 827.2,335.4 828.5,331.9 830.9,328.7 829.2,324.5 831.5,321.3 831.6,317.6 834.0,314.4 833.6,310.6 834.4,307.0 835.5,303.5 836.8,300.0 838.8,296.9 838.8,293.0 842.2,290.3 839.8,285.6 841.9,282.4 842.3,278.7 843.5,275.6 847.7,272.3 848.2,268.3 846.1,263.8 846.9,259.8 848.8,256.1 851.2,252.6 852.6,249.2 853.3,245.6 853.5,241.9 852.3,237.7 854.6,234.6 854.6,230.8 857.2,227.9 858.4,225.8 857.7,222.8 858.5,220.6 862.8,219.9 859.1,215.6 864.9,215.6 866.4,213.7 867.8,211.6 865.3,207.9 867.2,206.3 868.3,204.4 869.5,202.5 872.5,201.4 871.6,198.5 870.1,195.5 874.5,194.9 873.0,191.9 874.7,190.2 876.3,188.5 872.7,184.5 878.1,185.0 879.2,182.7 880.0,180.1 881.8,178.4 883.2,176.3 883.5,173.3 886.9,173.0 886.2,168.8 890.0,169.3 892.4,168.4 893.0,165.7 895.3,164.6 898.8,164.9 898.2,163.7 900.5,158.5 902.9,163.0 905.2,161.8 907.6,157.9 910.5,160.3 912.8,161.0 915.3,161.6 915.2,165.5 915.3,169.0 919.7,167.2 919.2,171.6 921.7,172.0 925.9,170.8 924.2,175.9 927.0,176.2 927.1,179.3 929.8,179.8 931.3,181.5 934.8,181.1 934.2,185.0 934.7,186.4 936.2,188.2 939.8,188.9 939.0,191.9 941.7,193.1 945.0,193.9 946.5,195.7 947.4,197.9 947.7,200.3 948.9,202.0 948.3,205.1 948.4,207.7 950.6,209.0 952.5,210.3 952.5,213.1 955.7,213.6 956.1,216.0 955.7,219.0 959.0,219.4 961.5,220.4 959.1,224.3 960.9,226.1 963.5,227.6 964.5,229.8 964.7,232.3 965.3,234.6 968.0,236.0 970.1,237.7 970.0,240.3 968.2,243.7 972.2,244.6 971.7,247.4 973.7,249.3 974.3,251.5 975.2,253.7 974.7,256.3 976.6,258.1 977.9,260.1 978.2,262.5 978.6,264.8 977.7,267.5 980.5,269.1 981.4,271.4 979.8,274.2 980.5,276.4 979.6,279.0 983.4,280.4 982.1,283.1 982.7,285.3 985.1,287.2 980.9,290.5 985.2,291.9 986.3,294.0 984.9,296.7 987.0,298.6 985.1,301.3 986.9,303.2 988.5,305.2 989.3,307.3 986.3,310.2 989.1,312.0 986.9,314.7 989.0,316.6 987.0,319.3 990.7,320.9 991.4,323.0 991.7,325.2 989.4,327.9 990.8,329.9 992.6,331.8 994.3,333.7 991.8,336.5 990.7,339.0 993.1,340.7 996.5,342.3 996.8,344.7 996.8,346.9 996.6,349.2 997.6,351.3 997.8,353.5 994.9,356.1 993.9,358.4 997.8,360.2 994.1,362.9 996.9,364.7 995.5,367.1 995.2,369.4 995.3,371.6 1000.2,373.2 999.1,375.6 997.8,378.0 996.3,380.4 1001.0,382.1 1000.2,384.4 997.6,386.9 1001.7,388.6 1000.2,391.1 1000.6,393.3 1000.4,395.6 1000.4,397.9 1001.9,399.9 1001.3,402.3 1001.7,404.5 1001.9,406.8 1002.6,408.9 1002.4,411.2 1003.6,413.3 1003.9,415.6 1004.5,417.7 1004.0,420.1 1004.8,422.2 1005.4,424.4 1005.9,426.6 1005.4,429.0 1005.9,431.2 1006.1,433.4 1006.9,435.6 1007.1,437.8 1008.0,441.2 1007.6,444.8 1009.0,448.2 1008.7,451.8 1008.7,455.3 1009.2,458.8 1010.5,462.2 1010.7,465.7 1010.1,469.3 1010.8,472.8 1010.8,476.3 1011.2,479.8 1012.3,483.2 1012.0,486.8 1012.6,490.3 1013.6,493.8 1013.9,497.3 1014.8,500.8 1014.7,504.4 1014.2,508.1 1015.9,511.5 1015.5,515.1 1016.6,518.6 1017.1,522.2 1016.5,525.8 1017.6,529.3 1018.3,532.8 1018.5,536.4 1018.1,540.0 1018.4,543.5 1019.6,546.9 1019.6,550.4 1018.7,554.0 1020.1,557.4 1019.9,561.0 1020.4,564.4 1020.1,568.0 1020.6,571.4 1020.6,575.0 1021.3,578.4 1022.1,581.9 1022.4,585.4 1022.9,588.8 1022.0,592.4 1023.5,595.8 1024.0,599.3 1022.9,602.9 1024.4,606.3 1023.7,609.9 1025.3,613.3 1025.1,616.8 1025.8,620.3 1025.2,623.9 1025.9,627.3 1026.2,630.8 1026.3,634.3 1026.5,637.9 1027.6,641.3 1027.5,644.8 1028.1,648.3 1028.9,651.7 1028.1,655.3 1028.7,658.8 1028.7,662.3 1030.0,665.7 1029.7,669.2 1030.2,672.7 1030.0,676.3 1031.4,679.7 1031.2,683.2 1031.3,686.7 1032.3,690.2 1031.9,693.8 1032.0,697.4 1032.8,700.9 1032.8,704.5 1033.2,708.0 1034.2,711.5 1034.3,715.1 1033.6,718.8 1035.0,722.2 1035.2,725.8 1036.1,729.3 1036.3,732.8 1036.7,736.4 1035.8,740.0 1036.4,743.5 1036.4,747.0 1036.4,750.5 1037.2,754.0 1037.0,757.5 1037.8,761.0 1038.2,764.4 1037.6,768.0 1037.9,771.5 1038.1,775.0 1039.0,778.4 1038.8,781.9 1039.6,785.4 1038.9,789.0 1039.3,792.5 1040.6,795.9 1039.9,799.4 1041.4,802.8 1041.9,806.3 1041.2,809.9 1042.2,813.3 1042.1,816.8 1042.2,820.4 1043.5,823.8 1042.7,827.4 1043.7,830.8 1043.8,834.3 1044.2,837.8 1043.9,841.3 1044.2,844.8 1045.3,848.2 1045.9,851.7 1045.9,855.2 1046.0,858.7 1046.8,862.2 1047.0,865.7 1046.3,869.3 1046.8,872.8 1046.6,876.3 1046.9,879.8 1047.4,883.3 1048.5,886.7 1049.2,890.4 1049.3,894.1 1049.4,897.8 1049.6,901.6 1050.0,905.3 1050.6,909.0 1050.2,912.8 1051.4,916.4 1051.5,920.1 1051.1,923.9 1051.6,927.6 1052.8,931.3 1053.2,935.0 1052.6,938.7 1054.2,942.3 1054.3,945.9 1053.9,949.6 1054.2,953.3 1055.1,956.9 1055.6,960.6 1055.6,964.2 1055.0,968.0 1055.8,971.6 1055.2,975.3 1055.8,978.9 1055.8,982.5 1057.7,985.8 1057.7,989.3 1058.3,992.8 1057.9,996.4 1058.4,999.8 1059.2,1003.3 1058.7,1006.8 1059.7,1010.3 1059.7,1013.8 1060.1,1017.3 1059.5,1020.9 1060.4,1024.3 1061.0,1027.8 1061.6,1031.2 1061.3,1034.8 1061.3,1038.3 1061.5,1041.8 1061.4,1045.3 1061.9,1048.8 1063.1,1052.2 1063.6,1055.7 1062.9,1059.3 1063.1,1062.8 1063.9,1066.2 1063.7,1069.8 1064.4,1073.2 1065.1,1076.6 1065.9,1080.3 1066.7,1084.0 1066.2,1087.9 1066.4,1091.7 1066.9,1095.4 1068.1,1099.0 1068.4,1102.7 1068.5,1106.5 1069.2,1110.2 1070.1,1113.9 1070.9,1117.5 1071.3,1121.3 1072.4,1124.9 1072.8,1128.6 1072.5,1132.4 1072.4,1136.1 1073.6,1139.6 1074.2,1143.3 1074.7,1146.9 1075.0,1150.6 1074.9,1154.3 1075.9,1157.9 1075.5,1161.7 1077.2,1165.2 1077.4,1168.9 1077.5,1172.4 1078.1,1175.9 1077.8,1179.4 1078.3,1182.9 1078.6,1186.4 1079.5,1189.9 1080.9,1193.3 1080.5,1196.9 1080.9,1200.3 1081.5,1203.8 1082.2,1207.3 1082.0,1210.9 1082.1,1214.4 1083.8,1217.7 1083.5,1221.3 1084.6,1224.8 1085.0,1228.3 1085.0,1231.9 1085.5,1235.4 1086.7,1238.8 1088.0,1242.2 1087.5,1245.9 1089.2,1249.1 1089.5,1252.7 1089.4,1256.3 1090.9,1259.7 1091.5,1263.1 1091.1,1266.9 1091.9,1270.3 1093.6,1273.5 1094.2,1277.0 1095.2,1280.4 1096.2,1283.8 1096.8,1287.3 1096.4,1291.0 1098.5,1294.2 1099.1,1297.7 1099.9,1301.1 1101.0,1304.5 1101.2,1308.1 1101.8,1311.7 1102.6,1315.2 1103.8,1318.5 1104.4,1322.1 1106.6,1325.2 1107.1,1328.8 1107.0,1332.6 1110.0,1335.5 1111.5,1339.1 1112.9,1342.7 1114.9,1346.0 1116.2,1349.7 1118.5,1352.6 1121.2,1355.4 1123.3,1358.8 1127.0,1360.5 1129.2,1364.1 1133.2,1365.1 1136.0,1368.3 1139.9,1370.0 1146.0,1368.9 1149.9,1370.7 1153.4,1373.0 1156.3,1376.3 1159.7,1377.7 1162.5,1379.7 1164.7,1382.6 1167.5,1384.7 1171.0,1386.4 1172.6,1390.0 1175.7,1392.1 1178.4,1394.6 1181.4,1397.4 1183.6,1400.8 1185.5,1404.5 1188.9,1406.8 1192.4,1408.7 1195.7,1410.8 1199.1,1412.9 1202.3,1415.2 1206.1,1418.0 1210.9,1418.1 1214.7,1420.0 1218.8,1421.8 1222.9,1422.2 1227.1,1422.5 1231.4,1421.4 1235.5,1421.9 1239.3,1423.5 1243.3,1423.1 1247.1,1424.0 1251.0,1423.6 1255.0,1423.4 1258.8,1424.3 1262.7,1425.5 1266.6,1425.9 1270.8,1425.4 1274.9,1425.1 1279.1,1425.2 1283.2,1424.9 1287.4,1425.1 1291.1,1425.7 1294.8,1424.6 1298.4,1425.4 1302.1,1426.2 1305.8,1426.1 1309.5,1424.8 1313.2,1426.5 1316.8,1426.3 1320.6,1425.0 1324.2,1425.3 1327.9,1425.2 1331.6,1425.0 1335.3,1427.0 1339.0,1425.9 1342.6,1426.9 1346.3,1425.5 1350.0,1425.3 1353.5,1427.1 1357.0,1427.0 1360.5,1427.5 1364.0,1426.9 1367.5,1426.7 1371.0,1427.2 1374.5,1425.9 1378.0,1426.9 1381.5,1426.7 1385.0,1426.2 1388.5,1427.2 1392.0,1426.7 1395.5,1427.1 1399.0,1426.9 1402.5,1426.8 1406.0,1427.0 1409.5,1427.5 1413.0,1428.3 1416.5,1428.3 1420.0,1428.2 1423.5,1428.3 1427.0,1427.3 1430.5,1428.8 1434.0,1427.5 1437.5,1427.3 1441.0,1428.2 1444.5,1428.8 1448.0,1428.1 1451.5,1428.8 1455.0,1428.2 1458.5,1429.7 1462.0,1428.8 1465.5,1429.0 1469.0,1429.2 1472.5,1430.0 1476.0,1430.3 1479.5,1429.5 1483.0,1429.5 1486.5,1429.9 1490.0,1428.9 1493.5,1429.7 1497.1,1430.6 1500.6,1430.5 1504.2,1429.0 1507.7,1430.7 1511.3,1429.8 1514.8,1431.0 1518.4,1429.8 1521.9,1429.5 1525.5,1430.2 1529.0,1430.9 1532.6,1430.0 1536.1,1431.0 1539.7,1430.7 1543.2,1430.0 1546.8,1429.9 1550.3,1430.4 1553.9,1430.2 1557.4,1430.2 1561.0,1430.7 1564.5,1431.2 1568.1,1430.7 1571.6,1429.8 1575.2,1430.0 1578.7,1430.3 1582.3,1430.9 1585.8,1430.0 1589.4,1429.9 1592.9,1430.4 1596.5,1430.3 1600.0,1429.9 1603.6,1430.9 1607.1,1431.7 1610.7,1430.9 1614.3,1431.4 1617.9,1431.6 1621.4,1431.6 1625.0,1431.8 1628.6,1430.9 1632.1,1431.4 1635.7,1430.3 1639.3,1431.8 1642.9,1430.8 1646.4,1431.1 1650.0,1431.9 1653.6,1430.7 1657.1,1430.6 1660.7,1431.9 1664.3,1431.4 1667.9,1430.4 1671.4,1430.3 1675.0,1431.0 1678.6,1430.3 1682.1,1432.0 1685.7,1430.7 1689.3,1430.9 1692.9,1431.2 1696.4,1431.5 1700.0,1431.3 1703.6,1431.7 1707.1,1431.8 1710.7,1431.4 1714.3,1430.8 1717.9,1432.5 1721.4,1432.0 1725.0,1430.8 1728.6,1431.5 1732.1,1432.2 1735.7,1432.7 1739.3,1430.9 1742.9,1430.8 1746.4,1431.7 1750.0,1431.6 1753.5,1432.6 1757.0,1432.5 1760.5,1431.5 1764.0,1431.7 1767.5,1432.0 1771.0,1432.6 1774.6,1431.3 1778.1,1431.7 1781.6,1431.1 1785.1,1432.2 1788.6,1431.0 1792.1,1432.8 1795.6,1432.0 1799.1,1432.1 1802.6,1431.1 1806.1,1431.4 1809.6,1431.9 1813.1,1432.7 1816.6,1432.1 1820.1,1431.6 1823.6,1433.0 1827.2,1432.3 1830.7,1432.1 1834.2,1431.4 1837.7,1431.7 1841.2,1432.9 1844.7,1431.3 1848.2,1432.1 1851.7,1432.3 1855.2,1431.8 1858.7,1432.7 1862.2,1432.9 1865.7,1432.8 1869.2,1432.6 1872.8,1431.6 1876.3,1431.3 1879.8,1432.0 1883.3,1431.8 1886.8,1431.6 1890.3,1432.9 1893.8,1431.6 1897.3,1432.9 1900.8,1433.1 1904.3,1431.5 1907.8,1433.1 1911.3,1432.1 1914.8,1431.7 1918.3,1431.7 1921.9,1431.4 1925.4,1432.3 1928.9,1432.1 1932.4,1433.0 1935.9,1433.0 1939.4,1431.5 1942.9,1432.2 1946.4,1432.1 1949.9,1431.7 1953.4,1431.9 1956.9,1431.9 1960.4,1432.8 1963.9,1432.1 1967.5,1431.7 1971.0,1431.9 1974.5,1432.3 1978.0,1432.6 1981.5,1432.0 1985.0,1432.9 1988.5,1431.9 1992.0,1432.5"/>
</g>
<g fill="#000" shape-rendering="crispEdges"><rect x="238" y="20" width="5" height="1439"/><rect x="1983" y="20" width="6" height="1439"/><rect x="228" y="20" width="1761" height="6"/><rect x="238" y="1431" width="1751" height="6"/><rect x="238.0" y="26" width="5" height="23"/><rect x="287.4" y="1437" width="6" height="10"/><rect x="287.4" y="26" width="6" height="10"/><rect x="337.2" y="1437" width="6" height="10"/><rect x="337.2" y="26" width="6" height="10"/><rect x="387.1" y="1437" width="6" height="10"/><rect x="387.1" y="26" width="6" height="10"/><rect x="437.0" y="1437" width="6" height="10"/><rect x="437.0" y="26" width="6" height="10"/><rect x="486.9" y="1437" width="6" height="22"/><rect x="486.9" y="26" width="6" height="23"/><rect x="536.7" y="1437" width="6" height="10"/><rect x="536.7" y="26" width="6" height="10"/><rect x="586.6" y="1437" width="6" height="10"/><rect x="586.6" y="26" width="6" height="10"/><rect x="636.5" y="1437" width="6" height="10"/><rect x="636.5" y="26" width="6" height="10"/><rect x="686.3" y="1437" width="6" height="10"/><rect x="686.3" y="26" width="6" height="10"/><rect x="736.2" y="1437" width="6" height="22"/><rect x="736.2" y="26" width="6" height="23"/><rect x="786.1" y="1437" width="6" height="10"/><rect x="786.1" y="26" width="6" height="10"/><rect x="836.0" y="1437" width="6" height="10"/><rect x="836.0" y="26" width="6" height="10"/><rect x="885.8" y="1437" width="6" height="10"/><rect x="885.8" y="26" width="6" height="10"/><rect x="935.7" y="1437" width="6" height="10"/><rect x="935.7" y="26" width="6" height="10"/><rect x="985.6" y="1437" width="6" height="22"/><rect x="985.6" y="26" width="6" height="23"/><rect x="1035.4" y="1437" width="6" height="10"/><rect x="1035.4" y="26" width="6" height="10"/><rect x="1085.3" y="1437" width="6" height="10"/><rect x="1085.3" y="26" width="6" height="10"/><rect x="1135.2" y="1437" width="6" height="10"/><rect x="1135.2" y="26" width="6" height="10"/><rect x="1185.1" y="1437" width="6" height="10"/><rect x="1185.1" y="26" width="6" height="10"/><rect x="1234.9" y="1437" width="6" height="22"/><rect x="1234.9" y="26" width="6" height="23"/><rect x="1284.8" y="1437" width="6" height="10"/><rect x="1284.8" y="26" width="6" height="10"/><rect x="1334.7" y="1437" width="6" height="10"/><rect x="1334.7" y="26" width="6" height="10"/><rect x="1384.5" y="1437" width="6" height="10"/><rect x="1384.5" y="26" width="6" height="10"/><rect x="1434.4" y="1437" width="6" height="10"/><rect x="1434.4" y="26" width="6" height="10"/><rect x="1484.3" y="1437" width="6" height="22"/><rect x="1484.3" y="26" width="6" height="23"/><rect x="1534.2" y="1437" width="6" height="10"/><rect x="1534.2" y="26" width="6" height="10"/><rect x="1584.0" y="1437" width="6" height="10"/><rect x="1584.0" y="26" width="6" height="10"/><rect x="1633.9" y="1437" width="6" height="10"/><rect x="1633.9" y="26" width="6" height="10"/><rect x="1683.8" y="1437" width="6" height="10"/><rect x="1683.8" y="26" width="6" height="10"/><rect x="1733.6" y="1437" width="6" height="22"/><rect x="1733.6" y="26" width="6" height="23"/><rect x="1783.5" y="1437" width="6" height="10"/><rect x="1783.5" y="26" width="6" height="10"/><rect x="1833.4" y="1437" width="6" height="10"/><rect x="1833.4" y="26" width="6" height="10"/><rect x="1883.3" y="1437" width="6" height="10"/><rect x="1883.3" y="26" width="6" height="10"/><rect x="1933.1" y="1437" width="6" height="10"/><rect x="1933.1" y="26" width="6" height="10"/><rect x="1983.5" y="26" width="5" height="23"/><rect x="215" y="1429.5" width="23" height="6"/><rect x="1960" y="1429.5" width="23" height="6"/><rect x="228" y="1301.3" width="10" height="6"/><rect x="1973" y="1301.3" width="10" height="6"/><rect x="215" y="1173.2" width="23" height="6"/><rect x="1960" y="1173.2" width="23" height="6"/><rect x="228" y="1045.0" width="10" height="6"/><rect x="1973" y="1045.0" width="10" height="6"/><rect x="215" y="916.9" width="23" height="6"/><rect x="1960" y="916.9" width="23" height="6"/><rect x="228" y="788.8" width="10" height="6"/><rect x="1973" y="788.8" width="10" height="6"/><rect x="215" y="660.6" width="23" height="6"/><rect x="1960" y="660.6" width="23" height="6"/><rect x="228" y="532.5" width="10" height="6"/><rect x="1973" y="532.5" width="10" height="6"/><rect x="215" y="404.3" width="23" height="6"/><rect x="1960" y="404.3" width="23" height="6"/><rect x="228" y="276.1" width="10" height="6"/><rect x="1973" y="276.1" width="10" height="6"/><rect x="215" y="148.0" width="23" height="6"/><rect x="1960" y="148.0" width="23" height="6"/></g>
<text x="198.5" y="1449.5" text-anchor="end" font-size="56.5" textLength="75.8" lengthAdjust="spacingAndGlyphs">0.0</text><text x="198.5" y="1193.2" text-anchor="end" font-size="56.5" textLength="75.8" lengthAdjust="spacingAndGlyphs">0.2</text><text x="198.5" y="936.9" text-anchor="end" font-size="56.5" textLength="75.8" lengthAdjust="spacingAndGlyphs">0.4</text><text x="198.5" y="680.6" text-anchor="end" font-size="56.5" textLength="75.8" lengthAdjust="spacingAndGlyphs">0.6</text><text x="198.5" y="424.3" text-anchor="end" font-size="56.5" textLength="75.8" lengthAdjust="spacingAndGlyphs">0.8</text><text x="198.5" y="168.0" text-anchor="end" font-size="56.5" textLength="75.8" lengthAdjust="spacingAndGlyphs">1.0</text><text x="240.0" y="1520" text-anchor="middle" font-size="56.5" textLength="92.0" lengthAdjust="spacingAndGlyphs">250</text><text x="489.4" y="1520" text-anchor="middle" font-size="56.5" textLength="92.0" lengthAdjust="spacingAndGlyphs">300</text><text x="738.7" y="1520" text-anchor="middle" font-size="56.5" textLength="92.0" lengthAdjust="spacingAndGlyphs">350</text><text x="988.1" y="1520" text-anchor="middle" font-size="56.5" textLength="92.0" lengthAdjust="spacingAndGlyphs">400</text><text x="1237.4" y="1520" text-anchor="middle" font-size="56.5" textLength="92.0" lengthAdjust="spacingAndGlyphs">450</text><text x="1486.8" y="1520" text-anchor="middle" font-size="56.5" textLength="92.0" lengthAdjust="spacingAndGlyphs">500</text><text x="1736.1" y="1520" text-anchor="middle" font-size="56.5" textLength="92.0" lengthAdjust="spacingAndGlyphs">550</text><text x="1985.5" y="1520" text-anchor="middle" font-size="56.5" textLength="92.0" lengthAdjust="spacingAndGlyphs">600</text>
<text x="1114" y="1607" text-anchor="middle" font-size="74.4" textLength="556" lengthAdjust="spacingAndGlyphs">Wavelength (nm)</text>
<text transform="translate(84.2,728.5) rotate(-90)" x="0" y="0" text-anchor="middle" font-size="74.4" textLength="842.6" lengthAdjust="spacingAndGlyphs">Normalized Intensity (a.u.)</text>
<line x1="1307" y1="101.0" x2="1469" y2="101.0" stroke="#000000" stroke-width="8"/>
<circle cx="1307" cy="101.0" r="4" fill="#000000"/>
<text x="1490" y="125.5" font-size="73.9" textLength="462.1" lengthAdjust="spacingAndGlyphs">PFO (383 nm)</text>
<line x1="1307" y1="189.6" x2="1469" y2="189.6" stroke="#ff0000" stroke-width="8"/>
<circle cx="1307" cy="189.6" r="4" fill="#ff0000"/>
<text x="1490" y="214.0" font-size="73.9" textLength="405.8" lengthAdjust="spacingAndGlyphs">C1 (394 nm)</text>
<line x1="1307" y1="278.2" x2="1469" y2="278.2" stroke="#00ff00" stroke-width="8"/>
<circle cx="1307" cy="278.2" r="4" fill="#00ff00"/>
<text x="1490" y="302.5" font-size="73.9" textLength="405.8" lengthAdjust="spacingAndGlyphs">C2 (384 nm)</text>
<line x1="1307" y1="366.8" x2="1469" y2="366.8" stroke="#0000ff" stroke-width="8"/>
<circle cx="1307" cy="366.8" r="4" fill="#0000ff"/>
<text x="1490" y="391.0" font-size="73.9" textLength="405.8" lengthAdjust="spacingAndGlyphs">C3 (385 nm)</text>
<line x1="1307" y1="455.4" x2="1469" y2="455.4" stroke="#ff00ff" stroke-width="8"/>
<circle cx="1307" cy="455.4" r="4" fill="#ff00ff"/>
<text x="1490" y="479.5" font-size="73.9" textLength="405.8" lengthAdjust="spacingAndGlyphs">C6 (382 nm)</text>
</svg></body></html>
